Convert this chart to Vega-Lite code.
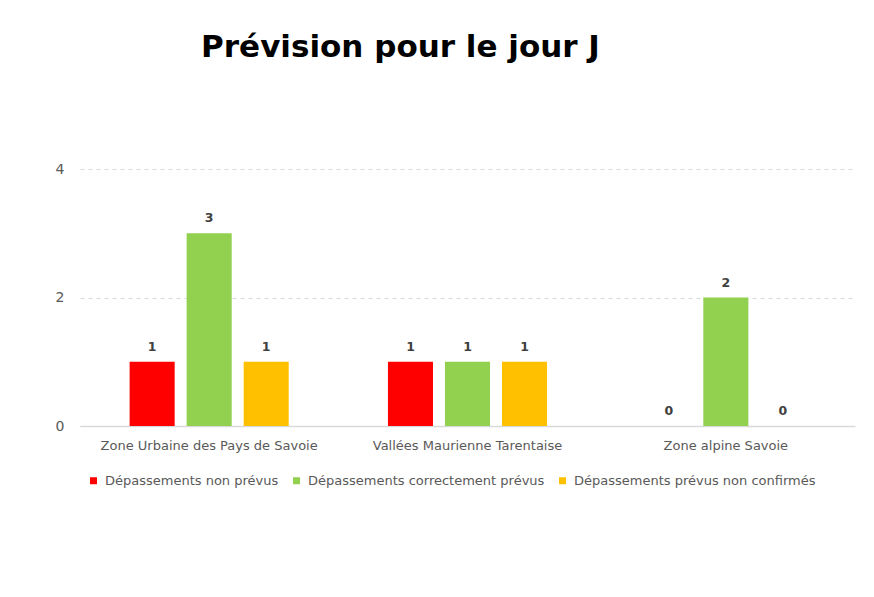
{
  "$schema": "https://vega.github.io/schema/vega-lite/v6.json",
  "autosize": {"type": "none"},
  "width": 775,
  "height": 257,
  "padding": {"left": 80, "top": 169, "right": 19, "bottom": 171},
  "background": "white",
  "title": {
    "text": "Prévision pour le jour J",
    "font": "DejaVu Sans",
    "fontSize": 31,
    "fontWeight": "bold",
    "color": "#000000",
    "anchor": "middle",
    "dx": -67,
    "offset": 98
  },
  "data": {
    "values": [
      {"zone": "Zone Urbaine des Pays de Savoie", "type": "Dépassements non prévus", "n": 1},
      {"zone": "Zone Urbaine des Pays de Savoie", "type": "Dépassements correctement prévus", "n": 3},
      {"zone": "Zone Urbaine des Pays de Savoie", "type": "Dépassements prévus non confirmés", "n": 1},
      {"zone": "Vallées Maurienne Tarentaise", "type": "Dépassements non prévus", "n": 1},
      {"zone": "Vallées Maurienne Tarentaise", "type": "Dépassements correctement prévus", "n": 1},
      {"zone": "Vallées Maurienne Tarentaise", "type": "Dépassements prévus non confirmés", "n": 1},
      {"zone": "Zone alpine Savoie", "type": "Dépassements non prévus", "n": 0},
      {"zone": "Zone alpine Savoie", "type": "Dépassements correctement prévus", "n": 2},
      {"zone": "Zone alpine Savoie", "type": "Dépassements prévus non confirmés", "n": 0}
    ]
  },
  "encoding": {
    "x": {
      "field": "zone",
      "type": "nominal",
      "sort": null,
      "scale": {"paddingInner": 0, "paddingOuter": 0},
      "axis": {
        "title": null,
        "labelAngle": 0,
        "labelFont": "DejaVu Sans",
        "labelFontSize": 13,
        "labelColor": "#595959",
        "labelPadding": 13,
        "labelLimit": 0,
        "ticks": false,
        "domainColor": "#d9d9d9",
        "domainWidth": 1.5
      }
    },
    "xOffset": {
      "field": "type",
      "type": "nominal",
      "sort": ["Dépassements non prévus", "Dépassements correctement prévus", "Dépassements prévus non confirmés"],
      "scale": {"paddingInner": 0.21, "paddingOuter": 0.87}
    },
    "y": {
      "field": "n",
      "type": "quantitative",
      "scale": {"domain": [0, 4], "nice": false},
      "axis": {
        "title": null,
        "values": [0, 2, 4],
        "labelFont": "DejaVu Sans",
        "labelFontSize": 14,
        "labelColor": "#595959",
        "labelPadding": 16,
        "ticks": false,
        "domain": false,
        "grid": true,
        "gridColor": "#d9d9d9",
        "gridDash": [4, 4],
        "gridWidth": 1
      }
    }
  },
  "layer": [
    {
      "mark": {"type": "bar"},
      "encoding": {
        "color": {
          "field": "type",
          "type": "nominal",
          "sort": ["Dépassements non prévus", "Dépassements correctement prévus", "Dépassements prévus non confirmés"],
          "scale": {
            "domain": ["Dépassements non prévus", "Dépassements correctement prévus", "Dépassements prévus non confirmés"],
            "range": ["#FF0000", "#92D050", "#FFC000"]
          },
          "legend": {
            "title": null,
            "orient": "none",
            "legendX": 7,
            "legendY": 305,
            "direction": "horizontal",
            "symbolType": "square",
            "symbolSize": 49,
            "symbolStrokeWidth": 0,
            "labelFont": "DejaVu Sans",
            "labelFontSize": 13,
            "labelColor": "#595959",
            "labelLimit": 0,
            "columnPadding": 11,
            "labelOffset": 5
          }
        }
      }
    },
    {
      "mark": {"type": "text", "dy": -15, "font": "DejaVu Sans", "fontSize": 12.5, "fontWeight": "bold", "color": "#404040"},
      "encoding": {
        "text": {"field": "n", "type": "quantitative"}
      }
    }
  ],
  "config": {
    "view": {"stroke": null}
  }
}
